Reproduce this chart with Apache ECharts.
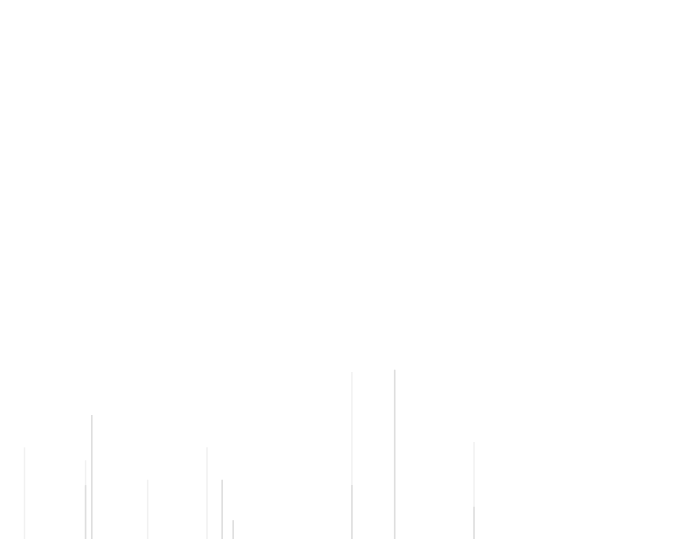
<!DOCTYPE html>
<html>
<head>
<meta charset="utf-8">
<script src="https://cdn.jsdelivr.net/npm/echarts@6/dist/echarts.min.js"></script>
<style>
    html, body { margin: 0; padding: 0; background: #fff; }
    #main { width: 690px; height: 539px; }
</style>
</head>
<body>
<div id="main"></div>
<script>
// bar positions along the x scale (0 - 100)
let positions = [3.55, 12.4, 13.3, 21.4, 30.0, 32.2, 33.8, 51.0, 57.2, 68.7];
// lower (darker) part of each bar
let lowerValues = [0, 10, 23, 0, 0, 11, 3.5, 10, 31.4, 6];
// upper (lighter) part of each bar
let upperValues = [17, 4.6, 0, 11, 17, 0, 0, 21, 0, 12];

let toPairs = function (xs, ys) {
    return xs.map(function (x, i) {
        return [x, ys[i]];
    });
};

// full bar = lower + upper, drawn behind the lower part
let totalValues = lowerValues.map(function (v, i) {
    return v + upperValues[i];
});

let option = {
    animation: false,
    grid: {
        left: 0,
        right: 0,
        top: 0,
        bottom: 0
    },
    xAxis: {
        type: 'value',
        min: 0,
        max: 100,
        show: false
    },
    yAxis: {
        type: 'value',
        min: 0,
        max: 100,
        show: false
    },
    series: [
        {
            name: 'upper',
            type: 'bar',
            barWidth: 1.5,
            barGap: '-100%',
            z: 1,
            itemStyle: {
                color: '#f1f1f1'
            },
            data: toPairs(positions, totalValues)
        },
        {
            name: 'lower',
            type: 'bar',
            barWidth: 1.5,
            barGap: '-100%',
            z: 2,
            itemStyle: {
                color: '#dedede'
            },
            data: toPairs(positions, lowerValues)
        }
    ]
};

let chart = echarts.init(document.getElementById('main'));
chart.setOption(option);
</script>
</body>
</html>
